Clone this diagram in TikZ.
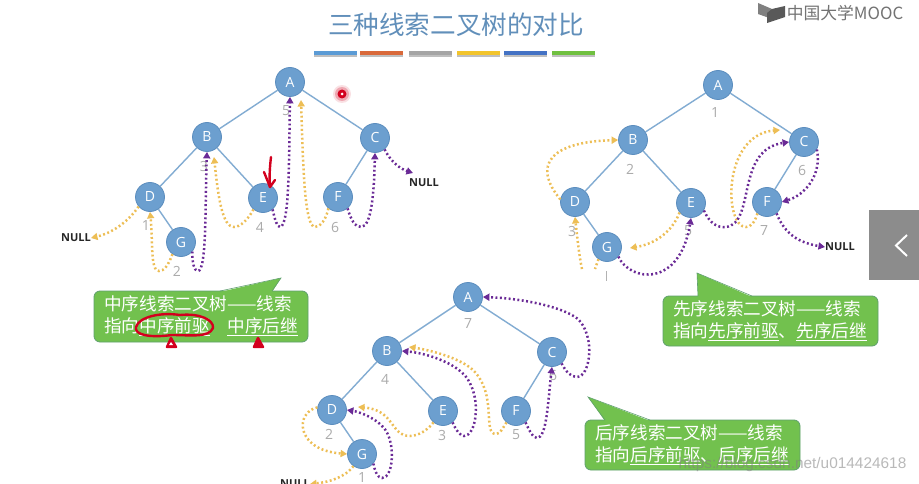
\documentclass[tikz,border=0pt]{standalone}
\usepackage{fontspec}
\setmainfont{Noto Sans CJK SC}
\setsansfont{Open Sans}
\newfontfamily\markfont{Liberation Sans}
\usepackage{xcolor}
\definecolor{treeFill}{HTML}{6C9FCF}
\definecolor{treeBorder}{HTML}{5B8DBE}
\definecolor{treeEdge}{HTML}{82ACD2}
\definecolor{threadPred}{HTML}{EDBE55}
\definecolor{threadSucc}{HTML}{6A2A96}
\definecolor{numGray}{HTML}{ABABAB}
\definecolor{bubbleFill}{HTML}{72C14E}
\definecolor{bubbleBorder}{HTML}{5FA06E}
\definecolor{inkRed}{HTML}{D3001E}
\usetikzlibrary{arrows.meta,positioning,calc}
\tikzset{
    treenode/.style={
        draw=treeBorder,
        fill=treeFill,
        circle,
        minimum size=29pt,
        inner sep=0pt,
        line width=0.8pt,
        text=white,
        font=\sffamily\fontsize{14}{14}\selectfont
    },
    treeline/.style={
        draw=treeEdge,
        line width=1.4pt
    },
    predthread/.style={
        -{Triangle[length=6.5pt,width=7pt]},
        color=threadPred,
        line width=2.5pt,
        dash pattern=on 1.9pt off 2.5pt
    },
    succthread/.style={
        -{Triangle[length=6.5pt,width=7pt]},
        color=threadSucc,
        line width=2.5pt,
        dash pattern=on 1.9pt off 2.5pt
    },
    ordernum/.style={
        text=numGray,
        inner sep=0pt,
        font=\sffamily\fontsize{14}{14}\selectfont
    },
    nullmark/.style={
        text=black!85,
        inner sep=0pt,
        font=\sffamily\bfseries\fontsize{11}{11}\selectfont
    },
    bubble/.style={
        draw=bubbleBorder,
        fill=bubbleFill,
        rectangle,
        rounded corners=6pt,
        line width=0.8pt,
        inner sep=0pt
    },
    bubbletext/.style={
        text=white,
        align=left,
        inner sep=0pt,
        anchor=west,
        font=\fontsize{17.6}{22}\selectfont
    },
    colorbar/.style={
        minimum width=43pt,
        minimum height=4.5pt,
        inner sep=0pt
    },
    inkmark/.style={
        draw=inkRed,
        line width=2.4pt,
        line cap=round,
        line join=round
    }
}

\begin{document}
\begin{tikzpicture}[x=1pt,y=-1pt]
    \clip (0,0) rectangle (919,484);
    \fill[white] (0,0) rectangle (919,484);

    % title and colour bars
    \node[text=treeFill!90!black,inner sep=0pt,font=\fontsize{25.6}{25.6}\selectfont] (title) at (456,25) {三种线索二叉树的对比};
    \foreach \barx/\barcol in {335/5B9BD5,381.5/D9693A,430/A5A5A5,478/F2C42C,525.5/4472C4,573.5/70C040}{
        \definecolor{barCol}{HTML}{\barcol}
        \fill[black!25] (\barx-21.5,55) rectangle (\barx+21.5,57);
        \node[colorbar,fill=barCol] at (\barx,53) {};
    }

    % logo
    \fill[black!50] (758,3) -- (772,9) -- (772,19) -- (758,14) -- cycle;
    \fill[black!65] (772,9) -- (785,6) -- (785,17) -- (767,23) -- (767,13) -- cycle;
    \node[text=black!55,inner sep=0pt,font=\fontsize{16.8}{16.8}\selectfont] (mooc) at (845,13) {中国大学MOOC};

    % side tab
    \fill[black!45] (869,210) rectangle (919,280);
    \draw[white,line width=2pt] (907,235) -- (896,245.5) -- (907,256);

    % inorder tree
    \node[treenode] (a1) at (290,82) {A};
    \node[treenode] (b1) at (207,137) {B};
    \node[treenode] (c1) at (375,138) {C};
    \node[treenode] (d1) at (150,197) {D};
    \node[treenode] (e1) at (263,198) {E};
    \node[treenode] (f1) at (338,197) {F};
    \node[treenode] (g1) at (181,242) {G};
    \draw[treeline] (a1) -- (b1);
    \draw[treeline] (a1) -- (c1);
    \draw[treeline] (b1) -- (d1);
    \draw[treeline] (b1) -- (e1);
    \draw[treeline] (c1) -- (f1);
    \draw[treeline] (d1) -- (g1);
    \node[ordernum] (n1a) at (146,226) {1};
    \node[ordernum] (n1b) at (177,271) {2};
    \node[ordernum] (n1c) at (204,166) {3};
    \node[ordernum] (n1d) at (260,227) {4};
    \node[ordernum] (n1e) at (286,111) {5};
    \node[ordernum] (n1f) at (335,227) {6};
    \node[nullmark] (null1a) at (76,238) {NULL};
    \node[nullmark] (null1b) at (424,183) {NULL};
    \coordinate (p1a) at (301,100);
    \coordinate (p1b) at (214,157);
    \coordinate (s1a) at (413,173);
    \draw[predthread] (d1.-140) .. controls (128,222) and (112,233) .. (null1a.east);
    \draw[predthread] (g1.-125) .. controls (168,266) and (164,271) .. (159,271) .. controls (150,271) and (153,240) .. (d1.south);
    \draw[predthread] (e1.-130) .. controls (248,220) and (240,227) .. (234,227) .. controls (222,227) and (218,195) .. (p1b);
    \draw[predthread] (f1.-130) .. controls (326,220) and (320,227) .. (315,227) .. controls (304,227) and (303,160) .. (p1a);
    \draw[succthread] (g1.-40) .. controls (192,262) and (194,271) .. (198,271) .. controls (207,271) and (205,200) .. (b1.south);
    \draw[succthread] (e1.-50) .. controls (275,220) and (277,227) .. (280,227) .. controls (290,227) and (289,150) .. (a1.south);
    \draw[succthread] (f1.-50) .. controls (351,220) and (355,227) .. (361,227) .. controls (372,227) and (374,190) .. (c1.south);
    \draw[succthread] (c1.-50) .. controls (390,160) and (398,168) .. (s1a);
    \node[bubble,minimum width=214pt,minimum height=51pt] (note1) at (201,316.5) {};
    \fill[bubbleFill] (220,292) -- (281,278) -- (272,292) -- cycle;
    \draw[bubbleBorder,line width=0.6pt] (220,291) -- (281,278) -- (272,291);
    \node[bubbletext] (note1t) at (104,316) {中序线索二叉树——线索\\指向\underline{中序前驱}\hspace{17.6pt}\underline{中序后继}};

    % preorder tree
    \node[treenode] (a2) at (718,85) {A};
    \node[treenode] (b2) at (633,140) {B};
    \node[treenode] (c2) at (804,142) {C};
    \node[treenode] (d2) at (575,202) {D};
    \node[treenode] (e2) at (691,203) {E};
    \node[treenode] (f2) at (767,202) {F};
    \node[treenode] (g2) at (607,247) {G};
    \draw[treeline] (a2) -- (b2);
    \draw[treeline] (a2) -- (c2);
    \draw[treeline] (b2) -- (d2);
    \draw[treeline] (b2) -- (e2);
    \draw[treeline] (c2) -- (f2);
    \draw[treeline] (d2) -- (g2);
    \node[ordernum] (n2a) at (715,113) {1};
    \node[ordernum] (n2b) at (630,169) {2};
    \node[ordernum] (n2c) at (572,231) {3};
    \node[ordernum] (n2e) at (688,231) {5};
    \node[ordernum] (n2f) at (802,170) {6};
    \node[ordernum] (n2g) at (764,231) {7};
    \node[nullmark] (null2) at (840,247) {NULL};
    \coordinate (p2a) at (780,130);
    \coordinate (p2b) at (630,248);
    \coordinate (p2c) at (582,269);
    \coordinate (p2d) at (595,269);
    \draw[predthread] (d2.170) .. controls (532,165) and (550,142) .. (b2.west);
    \draw[predthread] (e2.-140) .. controls (672,232) and (655,244) .. (p2b);
    \draw[predthread,-] (g2.-125) -- (p2d);
    \draw[predthread] (p2c) .. controls (579,255) and (577,235) .. (d2.south);
    \draw[predthread] (f2.-130) .. controls (755,222) and (751,227) .. (746,227) .. controls (724,227) and (722,135) .. (p2a);
    \draw[succthread] (g2.-40) .. controls (630,282) and (680,288) .. (e2.south);
    \draw[succthread] (e2.-30) .. controls (710,224) and (718,228) .. (726,227) .. controls (756,223) and (735,150) .. (c2.west);
    \draw[succthread] (c2.-30) .. controls (822,175) and (805,195) .. (f2.east);
    \draw[succthread] (f2.-50) .. controls (785,235) and (800,243) .. (null2.west);
    \draw[black!30,line width=0.7pt] (606,271) -- (606,281);
    \node[bubble,minimum width=215pt,minimum height=50pt] (note2) at (770.5,321) {};
    \fill[bubbleFill] (698,297) -- (697,273) -- (752,297) -- cycle;
    \draw[bubbleBorder,line width=0.6pt] (698,296) -- (697,273) -- (752,296);
    \node[bubbletext] (note2t) at (673,321) {先序线索二叉树——线索\\指向\underline{先序前驱}、\underline{先序后继}};

    % postorder tree
    \node[treenode] (a3) at (468,297) {A};
    \node[treenode] (b3) at (387,351) {B};
    \node[treenode] (c3) at (552,352) {C};
    \node[treenode] (d3) at (332,410) {D};
    \node[treenode] (e3) at (443,411) {E};
    \node[treenode] (f3) at (516,411) {F};
    \node[treenode] (g3) at (362,454) {G};
    \draw[treeline] (a3) -- (b3);
    \draw[treeline] (a3) -- (c3);
    \draw[treeline] (b3) -- (d3);
    \draw[treeline] (b3) -- (e3);
    \draw[treeline] (c3) -- (f3);
    \draw[treeline] (d3) -- (g3);
    \node[ordernum] (n3a) at (468,324) {7};
    \node[ordernum] (n3b) at (385,379) {4};
    \node[ordernum] (n3c) at (329,434) {2};
    \node[ordernum] (n3d) at (442,435) {3};
    \node[ordernum] (n3e) at (516,435) {5};
    \node[ordernum] (n3f) at (553,375) {6};
    \node[ordernum] (n3g) at (362,478) {1};
    \node[nullmark] (null3) at (295,484) {NULL};
    \coordinate (p3a) at (409,347);
    \coordinate (p3b) at (358,407);
    \draw[predthread] (d3.170) .. controls (295,412) and (295,450) .. (g3.west);
    \draw[predthread] (e3.-130) .. controls (428,430) and (418,436) .. (410,436) .. controls (390,436) and (395,410) .. (p3b);
    \draw[predthread] (f3.-130) .. controls (503,428) and (500,434) .. (496,434) .. controls (482,434) and (498,395) .. (473,370) .. controls (460,358) and (430,350) .. (p3a);
    \draw[predthread] (g3.-125) .. controls (345,477) and (330,482) .. (null3.east);
    \draw[succthread] (g3.-40) .. controls (375,472) and (378,478) .. (382,478) .. controls (394,478) and (396,440) .. (383,427) .. controls (375,418) and (360,412) .. (d3.east);
    \draw[succthread] (e3.-50) .. controls (456,430) and (460,436) .. (464,436) .. controls (476,436) and (482,400) .. (467,378) .. controls (455,362) and (425,353) .. (b3.east);
    \draw[succthread] (f3.-50) .. controls (529,430) and (533,438) .. (537,438) .. controls (547,438) and (548,400) .. (c3.south);
    \draw[succthread] (c3.-50) .. controls (566,372) and (571,377) .. (577,377) .. controls (590,377) and (596,337) .. (578,319) .. controls (560,305) and (515,298) .. (a3.east);
    \node[bubble,minimum width=215pt,minimum height=50pt] (note3) at (692.5,445) {};
    \fill[bubbleFill] (605,421) -- (588,397) -- (650,421) -- cycle;
    \draw[bubbleBorder,line width=0.6pt] (605,420) -- (588,397) -- (650,420);
    \node[bubbletext] (note3t) at (595,445) {后序线索二叉树——线索\\指向\underline{后序前驱}、\underline{后序后继}};

    % pen marks
    \draw[inkmark] (136,327) .. controls (139,317) and (160,312) .. (180,315) .. controls (200,313) and (214,320) .. (213,328) .. controls (209,338) and (190,335) .. (172,335) .. controls (150,338) and (134,335) .. (136,327);
    \draw[inkmark] (271,157) .. controls (270,165) and (269,178) .. (270,187);
    \draw[inkmark] (264,172) -- (270,187) -- (275,180);
    \draw[inkmark,fill=inkRed] (171,338) -- (176,347) -- (167,347) -- cycle;
    \fill[white] (171,342) -- (173,345) -- (169,345) -- cycle;
    \draw[inkmark,fill=inkRed] (258,338) -- (263,347) -- (254,347) -- cycle;
    \fill[inkRed,opacity=0.12] (342,94) circle (9pt);
    \fill[inkRed,opacity=0.25] (342,94) circle (7pt);
    \fill[inkRed] (342,94) circle (4.5pt);
    \fill[white] (342,94) circle (1.5pt);

    % watermark
    \node[text=black!50,opacity=0.55,inner sep=0pt,font=\markfont\fontsize{15.4}{15.4}\selectfont] (mark) at (792.5,465) {https://blog.csdn.net/u014424618};
\end{tikzpicture}
\end{document}
